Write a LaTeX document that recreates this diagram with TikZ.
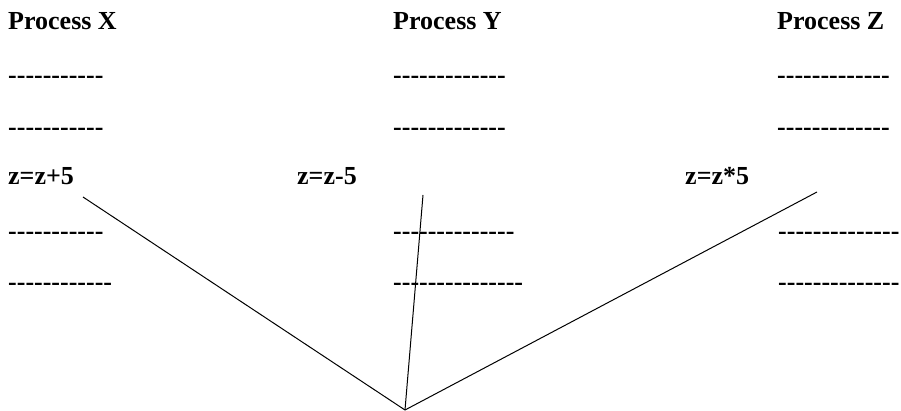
\documentclass[tikz,border=0pt]{standalone}
\usepackage{fontspec}
\setmainfont{Liberation Serif}[Ligatures=TeXOff]

\begin{document}
\begin{tikzpicture}[x=1pt, y=-1pt,
  txt/.style={anchor=base west, inner sep=0pt, font=\fontsize{26}{30}\selectfont\bfseries},
  link/.style={line width=1pt}]
\useasboundingbox (0,0) rectangle (901,411);
\node[txt] (procx) at (8,30) {Process X};
\node[txt] (procy) at (393,30) {Process Y};
\node[txt] (procz) at (777,30) {Process Z};
\node[txt] (x1) at (8,83.5) {-----------};
\node[txt] (y1) at (393,83.5) {-------------};
\node[txt] (z1) at (777,83.5) {-------------};
\node[txt] (x2) at (8,135.5) {-----------};
\node[txt] (y2) at (393,135.5) {-------------};
\node[txt] (z2) at (777,135.5) {-------------};
\node[txt] (opx) at (8,185) {z=z+5};
\node[txt] (opy) at (297,185) {z=z-5};
\node[txt] (opz) at (685,185) {z=z*5};
\node[txt] (x4) at (8,239.5) {-----------};
\node[txt] (y4) at (393,239.5) {--------------};
\node[txt] (z4) at (778,239.5) {--------------};
\node[txt] (x5) at (8,290.5) {------------};
\node[txt] (y5) at (393,290.5) {---------------};
\node[txt] (z5) at (778,290.5) {--------------};
\coordinate (join) at (405,410);
\coordinate (endx) at (83,197);
\coordinate (endy) at (423,195);
\coordinate (endz) at (817,192);
\draw[link] (endx) -- (join);
\draw[link] (endy) -- (join);
\draw[link] (endz) -- (join);
\end{tikzpicture}
\end{document}
